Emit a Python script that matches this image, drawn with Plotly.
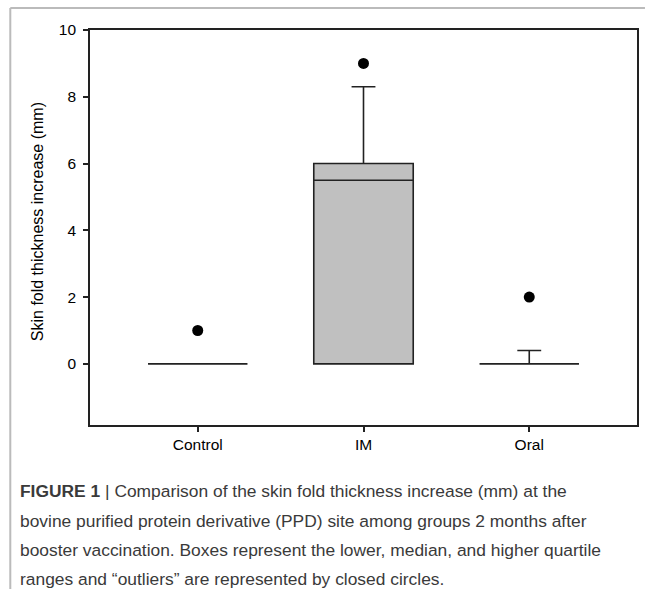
import plotly.graph_objects as go

# ---- data ----
groups = ["Control", "IM", "Oral"]
q1 = [0, 0, 0]
median = [0, 5.5, 0]
q3 = [0, 6, 0]
lower_fence = [0, 0, 0]
upper_fence = [0, 8.3, 0.4]
outlier_groups = ["Control", "IM", "Oral"]
outlier_values = [1, 9, 2]
y_ticks = [0, 2, 4, 6, 8, 10]
y_title = "Skin fold thickness increase (mm)"
caption_lines = [
    "<b>FIGURE 1</b> | Comparison of the skin fold thickness increase (mm) at the",
    "bovine purified protein derivative (PPD) site among groups 2 months after",
    "booster vaccination. Boxes represent the lower, median, and higher quartile",
    "ranges and \u201coutliers\u201d are represented by closed circles.",
]

W, H = 647, 589
L, R, T, B = 90, 8, 30, 164
pw, ph = W - L - R, H - T - B


def px(x):
    return (x - L) / pw


def py(y):
    return (H - B - y) / ph


fig = go.Figure()
fig.add_trace(go.Box(
    x=groups, q1=q1, median=median, q3=q3,
    lowerfence=lower_fence, upperfence=upper_fence,
    width=0.6, whiskerwidth=0.24,
    fillcolor="#c0c0c0",
    line=dict(color="#222222", width=1.6),
    boxpoints=False, showlegend=False, hoverinfo="skip",
))
fig.add_trace(go.Scatter(
    x=outlier_groups, y=outlier_values, mode="markers",
    marker=dict(color="black", size=11),
    showlegend=False, hoverinfo="skip",
))

font_chart = "Liberation Sans, Arial, sans-serif"

fig.update_layout(
    width=W, height=H,
    margin=dict(l=L, r=R, t=T, b=B, pad=0),
    paper_bgcolor="white", plot_bgcolor="white",
    boxmode="overlay",
    font=dict(family=font_chart, size=15, color="black"),
    xaxis=dict(
        type="category", range=[-0.65, 2.65],
        showline=True, linecolor="#222222", linewidth=1.6, mirror=True,
        ticks="outside", ticklen=5, tickwidth=1.5, tickcolor="#222222",
        showgrid=False, zeroline=False,
        tickfont=dict(size=15.5, family=font_chart),
    ),
    yaxis=dict(
        range=[-1.83, 10], tickvals=y_ticks,
        showline=True, linecolor="#222222", linewidth=1.6, mirror=True,
        ticks="outside", ticklen=5, tickwidth=1.5, tickcolor="#222222",
        showgrid=False, zeroline=False, ticklabelstandoff=4,
        tickfont=dict(size=15.5, family=font_chart),
    ),
)

annotations = [dict(
    text=y_title, textangle=-90, showarrow=False,
    xref="paper", yref="paper", x=px(37), y=py(222),
    xanchor="center", yanchor="middle",
    font=dict(size=16, family=font_chart, color="black"),
)]
line_y = [491, 521, 550, 579]
for txt, ly in zip(caption_lines, line_y):
    annotations.append(dict(
        text=txt, showarrow=False,
        xref="paper", yref="paper", x=px(18), y=py(ly),
        xanchor="left", yanchor="middle", align="left",
        font=dict(size=17.4, family="Liberation Sans, Arial, sans-serif", color="#3a3a3a"),
    ))
fig.update_layout(annotations=annotations)

fig.update_layout(shapes=[
    dict(type="line", xref="paper", yref="paper",
         x0=px(10), x1=px(647), y0=py(8), y1=py(8),
         line=dict(color="#bbbbbb", width=2)),
    dict(type="line", xref="paper", yref="paper",
         x0=px(10), x1=px(10), y0=py(8), y1=py(589),
         line=dict(color="#bbbbbb", width=2)),
])

fig.write_html("out.html", config={"displayModeBar": False},
               post_script="document.body.style.margin='0';")
